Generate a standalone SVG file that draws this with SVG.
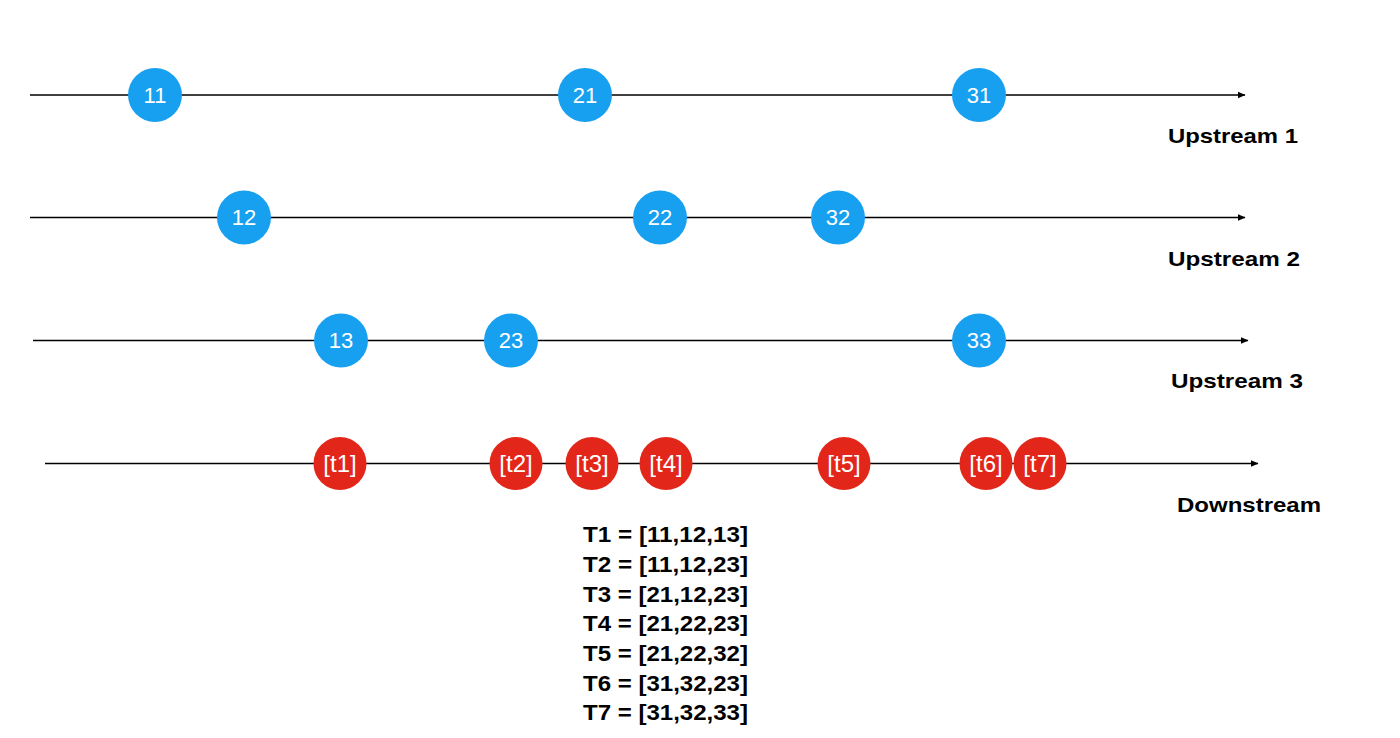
<svg xmlns="http://www.w3.org/2000/svg" width="1400" height="738" viewBox="0 0 1400 738">
<defs>
<marker id="arr" viewBox="0 0 8 8" refX="7.5" refY="4" markerWidth="8" markerHeight="8" markerUnits="userSpaceOnUse" orient="auto">
<path d="M0,0.5 L8,4 L0,7.5 Z" fill="#000"/>
</marker>
<style>
.ln{stroke:#000;stroke-width:1.5;fill:none;marker-end:url(#arr)}
.b{fill:#18a0f0}
.r{fill:#e3261a}
.nt{font-family:"Liberation Sans",Arial,sans-serif;font-size:22px;fill:#fff;text-anchor:middle}
.tl{font-family:"Liberation Sans",Arial,sans-serif;font-size:24px;fill:#fff;text-anchor:middle}
.lbl{font-family:"Liberation Sans",Arial,sans-serif;font-size:21px;font-weight:bold;fill:#000}
.tt{font-family:"Liberation Sans",Arial,sans-serif;font-size:21.5px;font-weight:bold;fill:#000}
</style>
</defs>
<rect width="1400" height="738" fill="#fff"/>
<g id="connectors">
<line class="ln" x1="30" y1="95" x2="1245" y2="95"/>
<line class="ln" x1="30" y1="217.5" x2="1245" y2="217.5"/>
<line class="ln" x1="33" y1="340.5" x2="1248" y2="340.5"/>
<line class="ln" x1="45" y1="463.5" x2="1258" y2="463.5"/>
</g>
<g id="n11"><circle class="b" cx="155" cy="95" r="27"/><text class="nt" x="155" y="102.5">11</text></g>
<g id="n21"><circle class="b" cx="585" cy="95" r="27"/><text class="nt" x="585" y="102.5">21</text></g>
<g id="n31"><circle class="b" cx="979" cy="95" r="27"/><text class="nt" x="979" y="102.5">31</text></g>
<g id="n12"><circle class="b" cx="244" cy="217.5" r="27"/><text class="nt" x="244" y="225">12</text></g>
<g id="n22"><circle class="b" cx="660" cy="217.5" r="27"/><text class="nt" x="660" y="225">22</text></g>
<g id="n32"><circle class="b" cx="838" cy="217.5" r="27"/><text class="nt" x="838" y="225">32</text></g>
<g id="n13"><circle class="b" cx="341" cy="340.5" r="27"/><text class="nt" x="341" y="348">13</text></g>
<g id="n23"><circle class="b" cx="511" cy="340.5" r="27"/><text class="nt" x="511" y="348">23</text></g>
<g id="n33"><circle class="b" cx="979" cy="340.5" r="27"/><text class="nt" x="979" y="348">33</text></g>
<g id="t1"><circle class="r" cx="340" cy="463.5" r="26.5"/><text class="tl" x="340" y="471.5">[t1]</text></g>
<g id="t2"><circle class="r" cx="516" cy="463.5" r="26.5"/><text class="tl" x="516" y="471.5">[t2]</text></g>
<g id="t3"><circle class="r" cx="592" cy="463.5" r="26.5"/><text class="tl" x="592" y="471.5">[t3]</text></g>
<g id="t4"><circle class="r" cx="666" cy="463.5" r="26.5"/><text class="tl" x="666" y="471.5">[t4]</text></g>
<g id="t5"><circle class="r" cx="844" cy="463.5" r="26.5"/><text class="tl" x="844" y="471.5">[t5]</text></g>
<g id="t6"><circle class="r" cx="986" cy="463.5" r="26.5"/><text class="tl" x="986" y="471.5">[t6]</text></g>
<g id="t7"><circle class="r" cx="1040" cy="463.5" r="26.5"/><text class="tl" x="1040" y="471.5">[t7]</text></g>
<g id="labels">
<text class="lbl" x="1168" y="143" textLength="130" lengthAdjust="spacingAndGlyphs">Upstream 1</text>
<text class="lbl" x="1168" y="266" textLength="132" lengthAdjust="spacingAndGlyphs">Upstream 2</text>
<text class="lbl" x="1171" y="388" textLength="132" lengthAdjust="spacingAndGlyphs">Upstream 3</text>
<text class="lbl" x="1177" y="512" textLength="144" lengthAdjust="spacingAndGlyphs">Downstream</text>
</g>
<g id="tuples">
<text class="tt" x="583" y="542" textLength="165" lengthAdjust="spacingAndGlyphs">T1 = [11,12,13]</text>
<text class="tt" x="583" y="572" textLength="165" lengthAdjust="spacingAndGlyphs">T2 = [11,12,23]</text>
<text class="tt" x="583" y="602" textLength="165" lengthAdjust="spacingAndGlyphs">T3 = [21,12,23]</text>
<text class="tt" x="583" y="631" textLength="165" lengthAdjust="spacingAndGlyphs">T4 = [21,22,23]</text>
<text class="tt" x="583" y="661" textLength="165" lengthAdjust="spacingAndGlyphs">T5 = [21,22,32]</text>
<text class="tt" x="583" y="691" textLength="165" lengthAdjust="spacingAndGlyphs">T6 = [31,32,23]</text>
<text class="tt" x="583" y="720" textLength="165" lengthAdjust="spacingAndGlyphs">T7 = [31,32,33]</text>
</g>
</svg>
